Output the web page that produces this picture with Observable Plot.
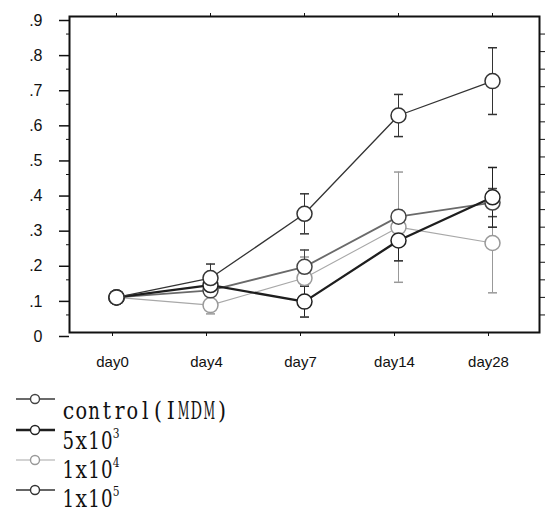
<!DOCTYPE html>
<html><head><meta charset="utf-8">
<script src="https://cdn.jsdelivr.net/npm/d3@7"></script>
<script src="https://cdn.jsdelivr.net/npm/@observablehq/plot@0.6"></script>
<style>
body{margin:0;background:#fff}
#chart{width:548px}
#chart svg{display:block}
</style>
</head><body><div id="chart"></div>
<script>
// ---- data ----
const days = ["day0", "day4", "day7", "day14", "day28"];
const seriesNames = ["control(IMDM)", "5x10^3", "1x10^4", "1x10^5"];
const controlMean = [0.10, 0.120, 0.187, 0.330, 0.370];
const controlErr  = [0, 0.015, 0.048, 0.018, 0.040];
const s5e3Mean    = [0.10, 0.135, 0.088, 0.262, 0.385];
const s5e3Err     = [0, 0.010, 0.044, 0.058, 0.085];
const s1e4Mean    = [0.10, 0.078, 0.155, 0.300, 0.255];
const s1e4Err     = [0, 0.025, 0.060, 0.157, 0.142];
const s1e5Mean    = [0.10, 0.155, 0.338, 0.618, 0.716];
const s1e5Err     = [0, 0.040, 0.057, 0.060, 0.095];
const yTicks = [0, 0.1, 0.2, 0.3, 0.4, 0.5, 0.6, 0.7, 0.8, 0.9];
const yMinorTicks = [0.05, 0.15, 0.25, 0.35, 0.45, 0.55, 0.65, 0.75, 0.85];
const yRightTicks = [0.05,0.1,0.15,0.2,0.25,0.3,0.35,0.4,0.45,0.5,0.55,0.6,0.65,0.7,0.75,0.8,0.85];

const means = [controlMean, s5e3Mean, s1e4Mean, s1e5Mean];
const errs = [controlErr, s5e3Err, s1e4Err, s1e5Err];
// styles (not data)
const styles = [
  {color: "#6a6a6a", width: 1.8, dot: "#444"},
  {color: "#1e1e1e", width: 2.3, dot: "#222"},
  {color: "#a8a8a8", width: 1.1, dot: "#999"},
  {color: "#333333", width: 1.3, dot: "#333"}
];

const rowsBySeries = seriesNames.map((name, s) =>
  days.map((day, i) => ({series: name, day, value: means[s][i], err: errs[s][i]})));

const capSymbol = {
  draw(ctx, size) { const r = Math.sqrt(size / Math.PI); ctx.moveTo(-r, 0); ctx.lineTo(r, 0); }
};

const marks = [];
const drawOrder = [2, 0, 1, 3];
for (const s of drawOrder) {
  const st = styles[s];
  marks.push(Plot.line(rowsBySeries[s], {x: "day", y: "value", stroke: st.color, strokeWidth: st.width}));
}
for (const s of drawOrder) {
  const st = styles[s];
  const withErr = rowsBySeries[s].filter(d => d.err > 0);
  marks.push(Plot.ruleX(withErr, {x: "day", y1: d => d.value - d.err, y2: d => d.value + d.err, stroke: st.dot, strokeWidth: 1}));
  marks.push(Plot.dot(withErr, {x: "day", y: d => d.value + d.err, symbol: capSymbol, r: 4.5, stroke: st.dot, strokeWidth: 1.5}));
  marks.push(Plot.dot(withErr, {x: "day", y: d => d.value - d.err, symbol: capSymbol, r: 4.5, stroke: st.dot, strokeWidth: 1.5}));
}
for (const s of drawOrder) {
  const st = styles[s];
  marks.push(Plot.dot(rowsBySeries[s], {x: "day", y: "value", r: 7.5, fill: "white", stroke: st.dot, strokeWidth: 1.5}));
}

const chart = Plot.plot({
  width: 548,
  height: 372,
  marginTop: 16,
  marginBottom: 40,
  marginLeft: 69,
  marginRight: 9,
  style: {fontFamily: "Liberation Sans, Arial, sans-serif", color: "#111", background: "white"},
  x: {type: "point", domain: days, padding: 0.5},
  y: {domain: [0, 0.9]},
  marks: [
    Plot.axisY({anchor: "left", ticks: yTicks, tickSize: 10, tickPadding: 17, fontSize: 16, dy: 4,
      tickFormat: d => d === 0 ? "0" : d.toFixed(1).replace(/^0/, ""), label: null, strokeWidth: 1.5}),
    Plot.axisY({anchor: "left", ticks: yMinorTicks, tickSize: 3, tickFormat: () => "", label: null}),
    Plot.axisY({anchor: "right", ticks: yRightTicks, tickSize: 5, tickFormat: () => "", label: null}),
    Plot.axisX({anchor: "bottom", tickSize: 4, tickPadding: 20, fontSize: 15, dx: -4, label: null}),
    Plot.axisX({anchor: "top", tickSize: 4, tickFormat: () => "", label: null}),
    ...marks,
    Plot.frame({stroke: "#111", strokeWidth: 2})
  ]
});
document.getElementById("chart").appendChild(chart);

// ---- legend ----
const legH = 142;
const leg = d3.select("#chart").append("svg").attr("width", 548).attr("height", legH);
const symY = [27, 58, 88, 118];
const baseY = [47, 77, 106, 135];
const pitch = 12.8, x0 = 62;
function drawChar(g, ch, cx, by, size, maxW) {
  const t = g.append("text")
    .attr("font-family", "DejaVu Serif, serif")
    .attr("font-size", size)
    .attr("fill", "#111")
    .attr("text-anchor", "middle")
    .text(ch);
  const w = t.node().getComputedTextLength() || maxW;
  const s = Math.min(0.82, maxW / w);
  t.attr("transform", `translate(${cx},${by}) scale(${s},1)`);
}
seriesNames.forEach((name, s) => {
  const st = styles[s];
  const g = leg.append("g");
  g.append("line").attr("x1", 16).attr("x2", 55).attr("y1", symY[s]).attr("y2", symY[s])
    .attr("stroke", st.color).attr("stroke-width", st.width);
  g.append("circle").attr("cx", 35).attr("cy", symY[s]).attr("r", 4.5)
    .attr("fill", "white").attr("stroke", st.dot).attr("stroke-width", 1.4);
  const [base, sup] = name.split("^");
  const chars = Array.from(base);
  chars.forEach((c, i) => drawChar(g, c, x0 + pitch * i + pitch / 2, baseY[s], 25, 11.6));
  if (sup) drawChar(g, sup, x0 + pitch * chars.length + 3, baseY[s] - 11, 13, 7);
});
</script>
</body></html>
